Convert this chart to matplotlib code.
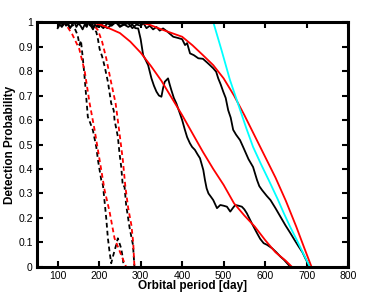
import matplotlib
matplotlib.use('Agg')
import matplotlib.pyplot as plt

plt.rcParams['font.family'] = ['Liberation Sans', 'DejaVu Sans']

# Simulated detection curves (black), dashed = short periods
blk_dash_a_x = [100, 106, 112, 118, 124, 130, 136, 142, 148, 152.5, 156, 160.5, 164.6, 170, 172.6, 178,
                184.7, 193, 197, 205, 209, 213, 217, 221, 225, 229, 233, 241, 245, 253, 257, 259]
blk_dash_a_y = [0.98, 1.0, 0.985, 1.0, 0.99, 0.975, 0.99, 0.97, 0.947, 0.906, 0.925, 0.852, 0.78, 0.668, 0.613,
                0.59, 0.559, 0.49, 0.437, 0.355, 0.335, 0.267, 0.199, 0.117, 0.062, 0.015, 0.042, 0.09, 0.117,
                0.076, 0.035, 0.0]

blk_dash_b_x = [165, 170, 175, 180, 185, 190, 193, 197, 201, 207, 213, 221, 229, 235, 237, 245, 249, 253,
                257, 261, 265, 273.5, 281.5, 285]
blk_dash_b_y = [1.0, 0.985, 1.0, 0.975, 0.985, 0.965, 0.96, 0.93, 0.89, 0.86, 0.82, 0.756, 0.668, 0.64, 0.6,
                0.532, 0.464, 0.41, 0.33, 0.33, 0.253, 0.158, 0.09, 0.0]

blk_a_x = [100, 105, 110, 115, 120, 125, 130, 135, 140, 145, 150, 155, 160, 165, 170, 175, 180, 185, 190,
           195, 200, 210, 220, 230, 240, 250, 260, 270, 280, 287, 294, 300, 306, 312, 318, 326, 332, 338,
           344, 350, 354, 358, 362, 366, 370, 374, 380, 386, 394.5, 400, 406.6, 412, 418.7, 424, 430.8, 437,
           443, 451, 455, 459, 463.5, 470, 475, 484, 492, 500, 508, 516, 522, 528, 536, 544, 550, 556, 568,
           580.5, 588, 596.5, 605, 617, 627, 637, 645, 653, 661]
blk_a_y = [0.975, 0.99, 0.98, 1.0, 0.985, 0.995, 0.975, 0.99, 1.0, 0.98, 0.995, 0.985, 0.97, 0.99, 0.98, 1.0,
           0.985, 0.97, 0.99, 0.98, 0.995, 0.985, 0.975, 0.99, 1.0, 0.985, 0.99, 0.98, 0.99, 0.975, 0.974,
           0.93, 0.865, 0.845, 0.824, 0.77, 0.74, 0.716, 0.70, 0.695, 0.73, 0.756, 0.763, 0.77, 0.745, 0.722,
           0.69, 0.668, 0.627, 0.60, 0.56, 0.53, 0.505, 0.49, 0.478, 0.46, 0.444, 0.396, 0.355, 0.321, 0.3,
           0.285, 0.273, 0.24, 0.253, 0.25, 0.246, 0.226, 0.24, 0.253, 0.25, 0.246, 0.235, 0.219, 0.178, 0.138,
           0.115, 0.097, 0.09, 0.076, 0.06, 0.042, 0.03, 0.015, 0.0]

blk_b_x = [180, 190, 200, 210, 220, 230, 240, 250, 260, 270, 280, 290, 300, 307, 314, 322, 330, 338, 346,
           354, 365, 378.5, 390, 400, 407, 412, 419, 428, 439, 450, 460, 467, 475, 482, 487, 493, 499, 505,
           511, 517, 523, 530, 539.5, 547, 560, 571, 580.5, 586, 592.6, 604, 613, 625, 637, 649, 661, 671,
           681, 690, 697, 708]
blk_b_y = [0.985, 1.0, 0.99, 0.975, 0.995, 0.985, 1.0, 0.98, 0.99, 0.995, 0.975, 0.99, 0.985, 0.995, 0.975,
           0.985, 0.97, 0.98, 0.965, 0.974, 0.96, 0.94, 0.935, 0.93, 0.906, 0.914, 0.872, 0.865, 0.852, 0.85,
           0.835, 0.824, 0.811, 0.797, 0.77, 0.745, 0.716, 0.69, 0.64, 0.61, 0.56, 0.54, 0.518, 0.49, 0.44,
           0.408, 0.355, 0.33, 0.314, 0.29, 0.273, 0.24, 0.205, 0.17, 0.138, 0.11, 0.083, 0.06, 0.035, 0.0]

# Analytic curves (red), dashed = short periods
red_dash_a_x = [110, 120, 135, 152, 165, 177, 189, 201, 213, 225, 237, 253, 265]
red_dash_a_y = [1.0, 0.99, 0.95, 0.89, 0.80, 0.668, 0.559, 0.437, 0.314, 0.226, 0.117, 0.049, 0.0]

red_dash_b_x = [175, 185, 197, 207, 217, 228, 239.6, 249, 257, 263, 270, 277.6, 282, 285]
red_dash_b_y = [1.0, 0.99, 0.967, 0.92, 0.852, 0.76, 0.668, 0.546, 0.437, 0.33, 0.24, 0.171, 0.1, 0.0]

red_a_x = [180, 205, 230, 250, 275, 300, 325, 350, 375, 400, 425, 450, 475, 500, 525, 550, 575, 600, 625,
           650, 665]
red_a_y = [1.0, 0.988, 0.97, 0.955, 0.92, 0.875, 0.82, 0.76, 0.69, 0.62, 0.545, 0.47, 0.40, 0.335, 0.26,
           0.21, 0.165, 0.11, 0.06, 0.025, 0.0]

red_b_x = [290, 320, 350, 375, 400, 425, 450, 475, 500, 525, 550, 575, 600, 625, 650, 675, 695, 712]
red_b_y = [1.0, 0.99, 0.97, 0.955, 0.94, 0.905, 0.865, 0.824, 0.77, 0.70, 0.62, 0.535, 0.45, 0.365, 0.27,
           0.165, 0.075, 0.0]

cyan_x = [475, 495, 515, 535, 555, 571, 590, 610, 630, 645, 660, 677, 692, 708]
cyan_y = [1.0, 0.885, 0.765, 0.665, 0.565, 0.49, 0.42, 0.35, 0.278, 0.22, 0.165, 0.108, 0.055, 0.0]

fig = plt.figure(figsize=(3.66, 2.94), dpi=100)
ax = fig.add_axes([0.101, 0.092, 0.85, 0.833])

lw = 1.3
dash = (0, (2.6, 1.8))
ax.plot(blk_dash_a_x, blk_dash_a_y, color='black', lw=lw, ls=dash)
ax.plot(blk_dash_b_x, blk_dash_b_y, color='black', lw=lw, ls=dash)
ax.plot(red_dash_a_x, red_dash_a_y, color='red', lw=lw, ls=dash)
ax.plot(red_dash_b_x, red_dash_b_y, color='red', lw=lw, ls=dash)
ax.plot(blk_a_x, blk_a_y, color='black', lw=lw)
ax.plot(blk_b_x, blk_b_y, color='black', lw=lw)
ax.plot(red_a_x, red_a_y, color='red', lw=lw)
ax.plot(red_b_x, red_b_y, color='red', lw=lw)
ax.plot(cyan_x, cyan_y, color='cyan', lw=lw)

ax.set_xlim(50, 800)
ax.set_ylim(0, 1)
ax.set_xticks(range(100, 801, 100))
yt = [i / 10 for i in range(11)]
ax.set_yticks(yt)
ax.set_yticklabels(['0'] + ['%.1f' % v for v in yt[1:-1]] + ['1'])

for s in ax.spines.values():
    s.set_linewidth(2.2)
ax.tick_params(direction='in', top=True, right=True, length=4, width=1.5,
               labelsize=7.5, pad=3)

ax.set_xlabel('Orbital period [day]', fontsize=8.5, fontweight='bold', labelpad=-1)
ax.set_ylabel('Detection Probability', fontsize=8.5, fontweight='bold', labelpad=2)

fig.savefig('out.png', dpi=100)
